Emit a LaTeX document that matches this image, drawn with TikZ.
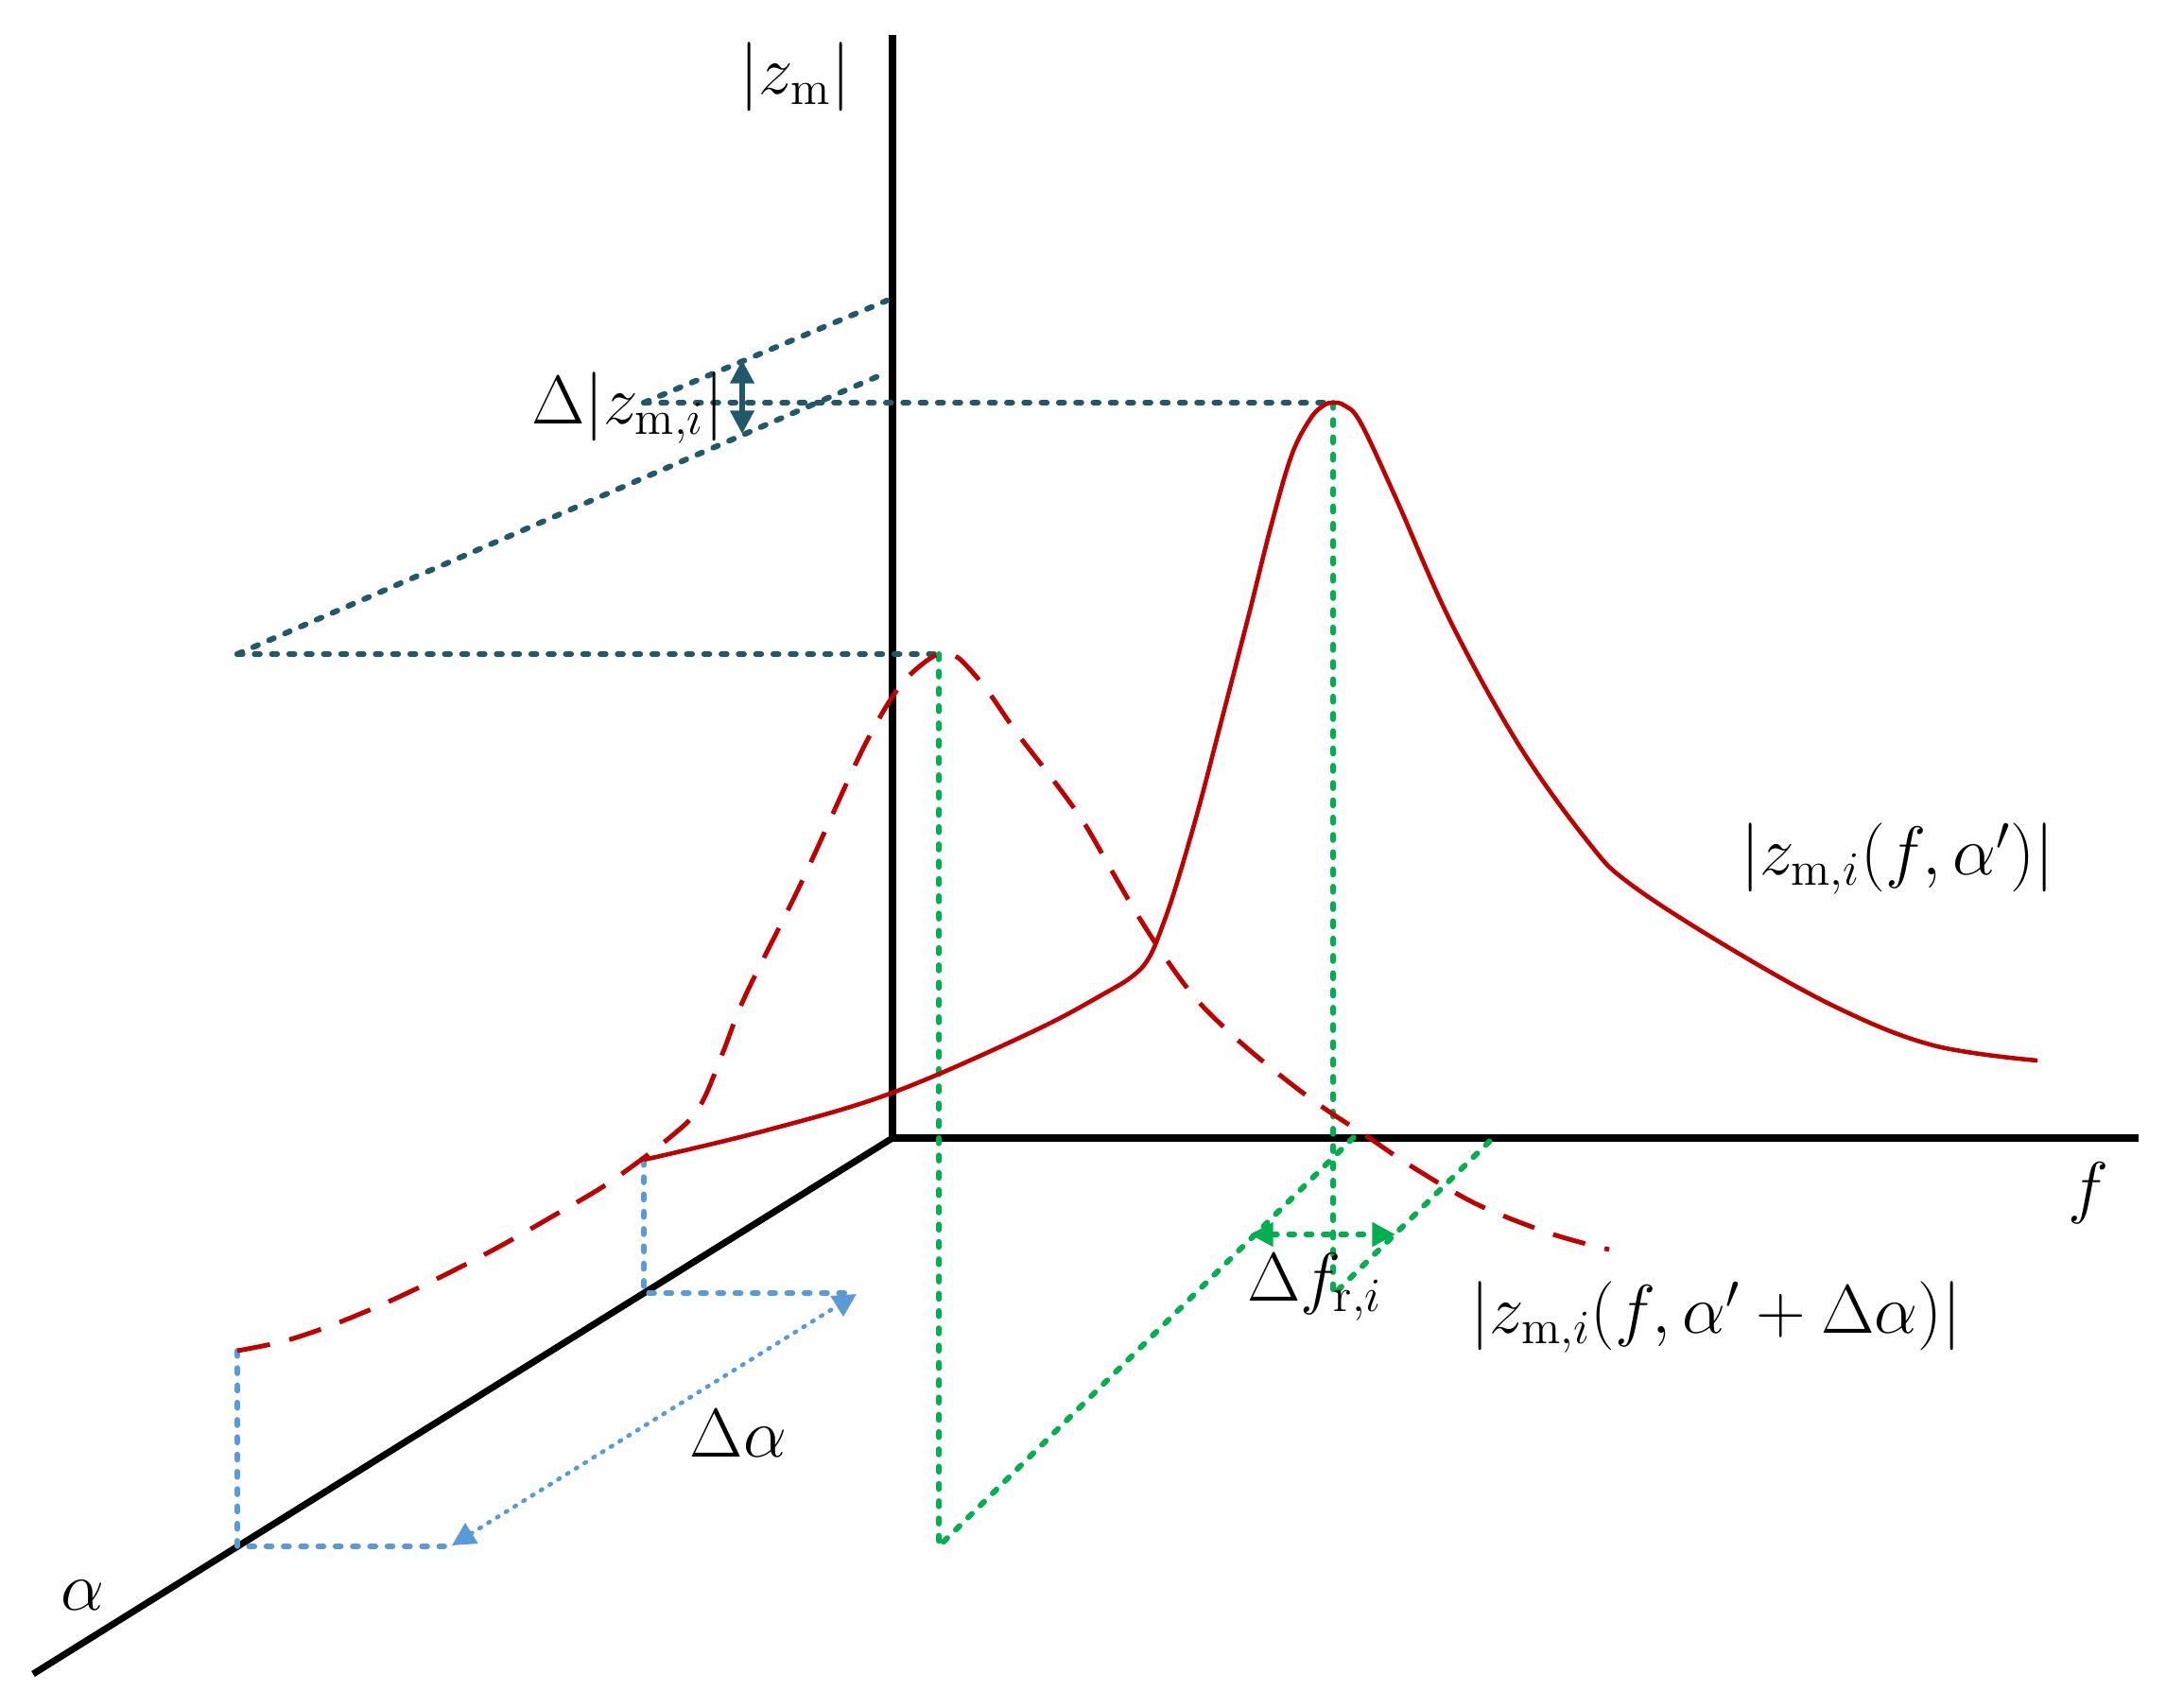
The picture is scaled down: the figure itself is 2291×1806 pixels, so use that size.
\documentclass[tikz,border=0pt]{standalone}
\usetikzlibrary{arrows.meta}
\definecolor{cred}{HTML}{C00000}
\definecolor{cteal}{HTML}{215968}
\definecolor{cgreen}{HTML}{00B050}
\definecolor{cblue}{HTML}{5B9BD5}
\begin{document}
\begin{tikzpicture}[x=0.01cm,y=-0.01cm,
  axis/.style={line width=2pt,black},
  solidcurve/.style={line width=1.3pt,cred},
  dashcurve/.style={line width=1.4pt,cred,dash pattern=on 10pt off 6pt},
  tealdot/.style={line width=1.7pt,cteal,dash pattern=on 1.6pt off 3.6pt,line cap=round},
  greendot/.style={line width=1.7pt,cgreen,dash pattern=on 1.6pt off 3.6pt,line cap=round},
  bluedot/.style={line width=1.7pt,cblue,dash pattern=on 1.6pt off 3.6pt,line cap=round},
  bluethin/.style={line width=1.3pt,cblue,dash pattern=on 0.5pt off 2.6pt,line cap=round},
  lbl/.style={inner sep=0pt,font=\fontsize{20}{24}\selectfont},
  tip/.style={{Triangle[length=7pt,width=7pt]}-{Triangle[length=7pt,width=7pt]}}
]
\useasboundingbox (0,0) rectangle (2291,1806);
% axes
\coordinate (O) at (944,1204);
\coordinate (Ztop) at (944,37);
\coordinate (Fend) at (2262,1204);
\coordinate (Aend) at (35,1771);
\draw[axis] (Ztop) -- (O) -- (Fend);
\draw[axis] (O) -- (Aend);

% key points
\coordinate (P1) at (1410,426);   % solid peak
\coordinate (P2) at (993,692);    % dashed peak
\coordinate (S1) at (681,426);
\coordinate (S2) at (251,692);
\coordinate (V1) at (938,318);
\coordinate (V2) at (938,394);
\coordinate (B1t) at (681,1227);
\coordinate (B1) at (681,1368);
\coordinate (B1r) at (900,1368);
\coordinate (B2t) at (251,1429);
\coordinate (B2) at (251,1636);
\coordinate (B2r) at (470,1636);
\coordinate (DA1) at (906,1369);
\coordinate (DA2) at (478,1635);
\coordinate (G1b) at (993,1636);
\coordinate (G1e) at (1432,1203);
\coordinate (G2b) at (1410,1370);
\coordinate (G2e) at (1580,1203);
\coordinate (DF1) at (1322,1306);
\coordinate (DF2) at (1476,1306);
\coordinate (DZ1) at (785,381);
\coordinate (DZ2) at (785,459);

% teal dotted projections
\draw[tealdot] (S1) -- (P1);
\draw[tealdot] (S1) -- (V1);
\draw[tealdot] (S2) -- (P2);
\draw[tealdot] (S2) -- (V2);
\draw[cteal,line width=1.5pt,tip] (DZ1) -- (DZ2);

% green dotted
\draw[greendot] (P2) -- (G1b) -- (G1e);
\draw[greendot] (P1) -- (G2b) -- (G2e);
\draw[greendot,tip] (DF1) -- (DF2);

% blue dotted
\draw[bluedot] (B1t) -- (B1) -- (B1r);
\draw[bluedot] (B2t) -- (B2) -- (B2r);
\draw[bluethin,tip] (DA2) -- (DA1);

% solid curve
\draw[solidcurve] plot[smooth,tension=0.6] coordinates {
(681,1227) (810,1196) (944,1156) (1091,1092) (1170,1050)
(1200,1031) (1216,1012) (1229,981) (1244,937) (1267,858) (1290,770)
(1321,650) (1344,558) (1366,482) (1386,443) (1400,429) (1410,426) (1422,429)
(1439,447) (1476,526) (1534,657) (1607,789) (1680,891) (1724,935) (1826,1001)
(1943,1066) (2045,1106) (2155,1122)};

% dashed curve
\draw[dashcurve] plot[smooth,tension=0.55] coordinates {
(251,1429) (300,1419) (351,1402) (409,1378) (468,1350) (526,1320) (584,1287)
(640,1254) (690,1218) (722,1192) (736,1177) (748,1155) (766,1110) (789,1052)
(847,935) (906,806) (934,753) (955,722) (975,703) (993,692) (1010,694)
(1022,704) (1044,730) (1076,776) (1110,820) (1145,868) (1174,918) (1202,966)
(1233,1014) (1267,1059) (1309,1100) (1352,1136) (1397,1170) (1447,1203)
(1493,1234) (1562,1274) (1640,1305) (1702,1322)};

% labels
\node[lbl] (lz) at (841,81) {$|z_{\mathrm{m}}|$};
\node[lbl] (lf) at (2209,1262) {$f$};
\node[lbl] (la) at (87,1688) {$\alpha$};
\node[lbl] (ldz) at (664,432) {$\Delta\bigl|z_{\mathrm{m},i}\bigr|$};
\node[lbl] (ldf) at (1391,1362) {$\Delta f_{\mathrm{r},i}$};
\node[lbl] (lda) at (781,1517) {$\Delta\alpha$};
\node[lbl] (lc1) at (2007,909) {$\bigl|z_{\mathrm{m},i}(f,\alpha')\bigr|$};
\node[lbl] (lc2) at (1815,1394) {$\bigl|z_{\mathrm{m},i}(f,\alpha'+\Delta\alpha)\bigr|$};
\end{tikzpicture}
\end{document}
